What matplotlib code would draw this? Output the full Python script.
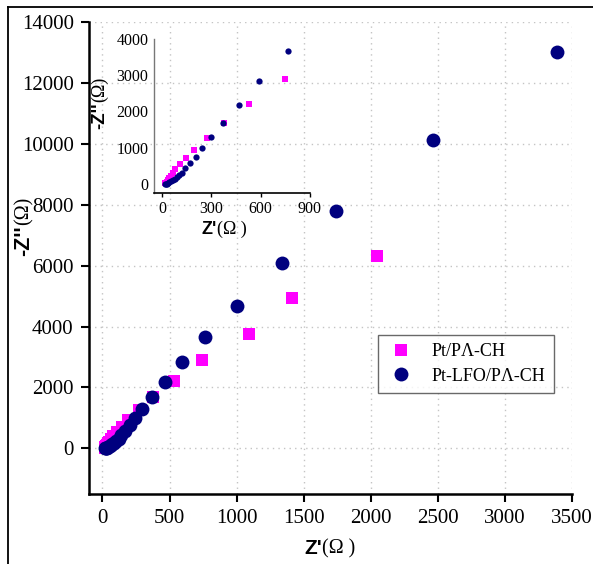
import matplotlib
matplotlib.use("Agg")
import matplotlib.pyplot as plt
from matplotlib.lines import Line2D

# Nyquist data (Z' and -Z'' in ohm)
pt_zre = [2050, 1410, 1090, 745, 530, 376, 270, 192, 144, 110, 80, 63, 52, 43, 35, 28, 22, 18]
pt_zim = [6330, 4930, 3760, 2900, 2200, 1680, 1270, 940, 710, 540, 405, 295, 220, 160, 110, 65, 35, 15]

lfo_zre = [3390, 2465, 1740, 1335, 1000, 765, 590, 465, 372, 296, 241, 205, 170, 140,
           120, 102, 88, 75, 63, 53, 44, 36, 29, 23, 19]
lfo_zim = [13000, 10130, 7800, 6100, 4690, 3660, 2830, 2180, 1690, 1290, 985, 753, 570, 433,
           312, 245, 190, 145, 105, 72, 45, 25, 10, 2, 0]

x_ticks = [0, 500, 1000, 1500, 2000, 2500, 3000, 3500]
y_ticks = [0, 2000, 4000, 6000, 8000, 10000, 12000, 14000]
inset_x_ticks = [0, 300, 600, 900]
inset_y_ticks = [0, 1000, 2000, 3000, 4000]

MAGENTA = "#ff00ff"
NAVY = "#00007f"
SERIF = "Liberation Serif"
SANS = "Liberation Sans"

W, H = 593, 564
fig = plt.figure(figsize=(W / 100, H / 100), dpi=100)


def fx(px):
    return px / W


def fy(py):
    return 1 - py / H


# outer frame (top and left edges only visible)
fig.add_artist(Line2D([fx(8), fx(593)], [fy(7), fy(7)], color="black", lw=1.3))
fig.add_artist(Line2D([fx(8), fx(8)], [fy(7), fy(564)], color="black", lw=1.3))

# main axes
ax = fig.add_axes([fx(89), fy(494), fx(572) - fx(89), fy(22) - fy(494)])
ax.set_xlim(-100, 3500)
ax.set_ylim(-1500, 14000)
ax.plot(pt_zre, pt_zim, "s", color=MAGENTA, ms=8.5, mew=0, zorder=3)
ax.plot(lfo_zre, lfo_zim, "o", color=NAVY, ms=10, mew=0, zorder=4)

ax.set_xticks(x_ticks)
ax.set_yticks(y_ticks)
ax.tick_params(direction="out", length=6, width=1.5, labelsize=15, pad=5)
for lab in ax.get_xticklabels() + ax.get_yticklabels():
    lab.set_family(SERIF)
for s in ["top", "right"]:
    ax.spines[s].set_visible(False)
for s in ["left", "bottom"]:
    ax.spines[s].set_linewidth(1.8)
ax.grid(True, color="#c4c4c4", linestyle=(0, (1, 3)), linewidth=1.0)
ax.set_axisbelow(True)

# axis labels: bold sans symbol + serif unit
fig.text(fx(322), fy(549), "Z'", ha="right", va="center", family=SANS,
         fontweight="bold", fontsize=15)
fig.text(fx(322), fy(549), "(Ω )", ha="left", va="center", family=SERIF, fontsize=14.5)
fig.text(fx(24), fy(225), "-Z''", ha="center", va="top", rotation=90, family=SANS,
         fontweight="bold", fontsize=15.5)
fig.text(fx(24), fy(225), "(Ω)", ha="center", va="bottom", rotation=90, family=SERIF,
         fontsize=14.5)

# legend
handles = [
    Line2D([], [], ls="none", marker="s", color=MAGENTA, ms=9, mew=0, label="Pt/PΛ-CH"),
    Line2D([], [], ls="none", marker="o", color=NAVY, ms=10, mew=0, label="Pt-LFO/PΛ-CH"),
]
leg = fig.legend(handles=handles, loc="center", bbox_to_anchor=(fx(466), fy(364)),
                 prop={"family": SERIF, "size": 13}, frameon=True, fancybox=False,
                 edgecolor="#444444", handletextpad=0.9, borderpad=0.45,
                 labelspacing=0.4, handlelength=1.6)
leg.get_frame().set_linewidth(1.0)

# inset
ins = fig.add_axes([fx(154), fy(193), fx(310) - fx(154), fy(39) - fy(193)])
ins.patch.set_alpha(0)
ins.set_xlim(-50, 900)
ins.set_ylim(-250, 4000)
ins.plot(pt_zre, pt_zim, "s", color=MAGENTA, ms=4, mew=0, zorder=3)
ins.plot(lfo_zre, lfo_zim, "o", color=NAVY, ms=4.5, mew=0, zorder=4)
ins.set_xticks(inset_x_ticks)
ins.set_yticks(inset_y_ticks)
ins.tick_params(axis="x", direction="out", length=3, width=1, labelsize=11.5, pad=3)
ins.tick_params(axis="y", length=0, labelsize=11.5, pad=4)
for lab in ins.get_xticklabels() + ins.get_yticklabels():
    lab.set_family(SERIF)
for s in ["top", "right"]:
    ins.spines[s].set_visible(False)
ins.spines["left"].set_color("#777777")
ins.spines["left"].set_linewidth(1.0)
ins.spines["bottom"].set_linewidth(1.2)

fig.text(fx(217), fy(229), "Z'", ha="right", va="center", family=SANS,
         fontweight="bold", fontsize=13)
fig.text(fx(217), fy(229), "(Ω )", ha="left", va="center", family=SERIF, fontsize=13)
fig.text(fx(100), fy(102), "-Z''", ha="center", va="top", rotation=90, family=SANS,
         fontweight="bold", fontsize=13.5)
fig.text(fx(100), fy(102), "(Ω)", ha="center", va="bottom", rotation=90, family=SERIF,
         fontsize=13)

fig.savefig("out.png", dpi=100)
